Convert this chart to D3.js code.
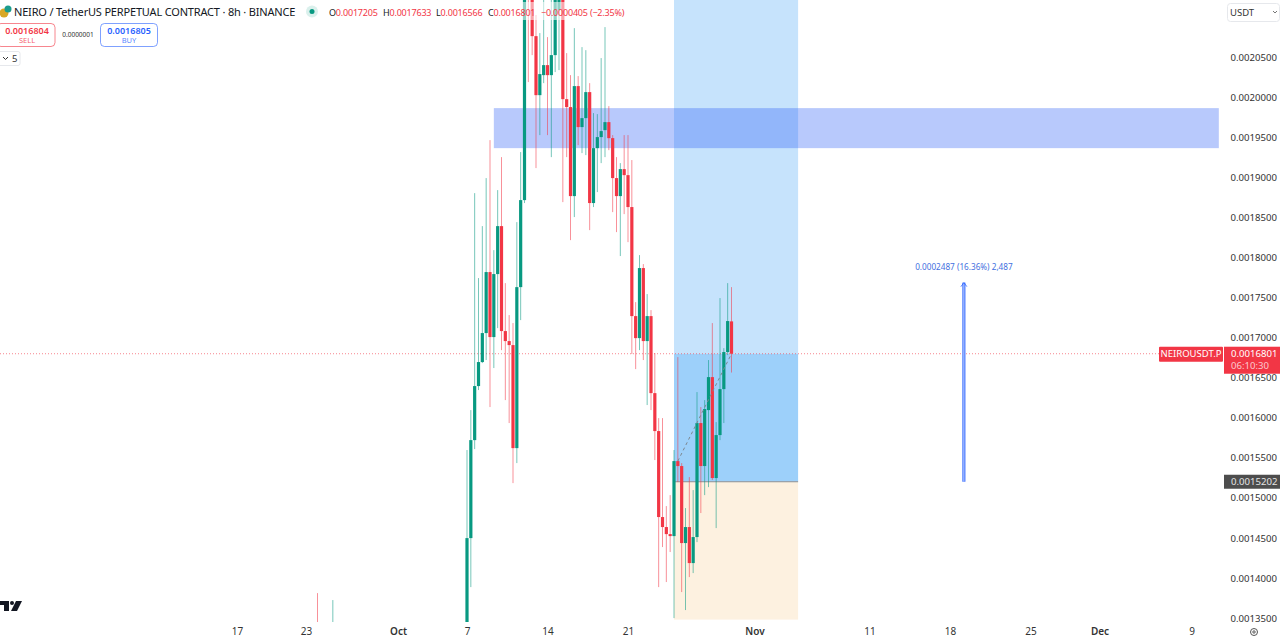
<!DOCTYPE html>
<html>
<head>
<meta charset="utf-8">
<script src="https://cdn.jsdelivr.net/npm/d3@7"></script>
<style>
html, body { margin: 0; padding: 0; background: #fff; overflow: hidden; }
text { font-family: "Noto Sans", sans-serif; }
</style>
</head>
<body>
<svg id="chart" width="1280" height="638"></svg>
<script>
// prices are in ticks of 0.0000001, candles are 8h starting 7 Oct
var opens = [13412,14498,15722,16397,16697,17059,17821,17009,17796,18395,17084,16959,16909,15622,17633,18720,21718,21468,20768,20031,20281,20406,20281,20531,21093,21343,19981,19882,18770,20144,19632,19744,20069,18683,19369,19507,19594,19694,19494,18995,18770,19107,19032,18633,17271,16996,17871,16959,17271,16309,15835,14761,14636,14548,14523,15460,15398,14436,14636,14186,14511,15935,15398,16097,16509,15248,15785,16359,16822,17205]
var highs = [15598,16097,18807,17746,18395,18995,19469,18095,18845,19257,17683,17284,17184,18445,19320,21593,21843,21593,21031,20806,21280,20756,21280,21343,21468,21468,20556,20281,20868,20269,20631,20593,20181,19807,19794,20494,20881,19894,19532,19257,19182,19532,19532,19220,17446,18033,17921,17546,17346,16809,15997,15997,14898,15035,15598,16759,15435,14873,15260,15098,16322,16135,16222,16722,17184,15947,17496,16871,17683,17633]
var lows = [13349,13886,15610,16347,16684,16722,16135,16622,17121,16846,16222,15935,15185,15435,17221,18683,20194,20531,19120,19532,20181,19532,19257,20319,20344,18695,19257,18220,18508,19407,19307,19282,18345,18633,18820,19182,19257,19344,18570,18320,18021,18545,18195,16797,16609,16846,16722,16160,16097,15473,13886,14386,13949,14324,13499,15198,13824,13599,14011,14061,14448,14811,15035,15135,15223,14623,15722,15935,16784,16566]
var closes = [14498,15722,16397,16697,17059,17821,17009,17796,18395,17084,16959,16909,15622,17633,18720,21405,21468,20768,20031,20294,20406,20281,20531,21280,21343,19981,19882,18770,20144,19632,19744,20069,18683,19369,19507,19582,19694,19494,18995,18770,19107,19032,18633,17271,16996,17871,16959,17271,16309,15835,14761,14636,14548,14523,15460,15398,14436,14636,14186,14511,15935,15398,16110,16509,15248,15785,16359,16822,17209,16801]

// two older candles whose wicks just poke above the bottom of the pane
var oldTimes = [Date.UTC(2024,8,24,0), Date.UTC(2024,8,25,8)]
var oldOpens = [13000, 12900]
var oldHighs = [13811, 13724]
var oldLows = [12800, 12800]
var oldCloses = [12900, 13000]

var priceTicks = [13500,14000,14500,15000,15500,16000,16500,17000,17500,18000,18500,19000,19500,20000,20500]
var timeTicks = [Date.UTC(2024,8,17),Date.UTC(2024,8,23),Date.UTC(2024,9,1),Date.UTC(2024,9,7),Date.UTC(2024,9,14),Date.UTC(2024,9,21),Date.UTC(2024,10,1),Date.UTC(2024,10,11),Date.UTC(2024,10,18),Date.UTC(2024,10,25),Date.UTC(2024,11,1),Date.UTC(2024,11,9)]
var timeLabels = ["17","23","Oct","7","14","21","Nov","11","18","25","Dec","9"]

var lastPrice = 16801, entryPrice = 15202, arrowTop = 17689
var zoneTop = 19869, zoneBottom = 19369, positionTop = 21800, positionBottom = 13480

var width = 1280, height = 638, paneW = 1224, paneH = 622
var green = "#089981", red = "#f23645", blue = "#2962ff"

var svg = d3.select("#chart")
var x = d3.scaleUtc().domain([Date.UTC(2024,9,1), Date.UTC(2024,10,1)]).range([398, 754.5])
var y = d3.scaleLinear().domain([13500, 20500]).range([618, 57.6])
var fmt = d => (d/1e7).toFixed(7)

var candles = opens.map((o,i) => ({t: Date.UTC(2024,9,7) + i*8*3600e3, o: o, h: highs[i], l: lows[i], c: closes[i]}))
oldTimes.forEach((t,i) => candles.unshift({t: t, o: oldOpens[i], h: oldHighs[i], l: oldLows[i], c: oldCloses[i]}))

svg.append("clipPath").attr("id","pane").append("rect").attr("width",paneW).attr("height",paneH)
var pane = svg.append("g").attr("clip-path","url(#pane)")

// position tool
var posL = x(Date.UTC(2024,9,25)), posR = x(Date.UTC(2024,10,4,19))
pane.append("rect").attr("x",posL).attr("width",posR-posL)
    .attr("y",y(positionTop)).attr("height",y(lastPrice)-y(positionTop)).attr("fill","#c6e3fc")
pane.append("rect").attr("x",posL).attr("width",posR-posL)
    .attr("y",y(lastPrice)).attr("height",y(entryPrice)-y(lastPrice)).attr("fill","#9dd0fa")
pane.append("rect").attr("x",posL).attr("width",posR-posL)
    .attr("y",y(entryPrice)).attr("height",y(positionBottom)-y(entryPrice)).attr("fill","#fdf1e0")
pane.append("line").attr("x1",posL).attr("x2",posR).attr("y1",y(entryPrice)).attr("y2",y(entryPrice))
    .attr("stroke","#8a8f96").attr("stroke-width",1)

// blue zone
var zoneL = x(Date.UTC(2024,9,9,8)), zoneR = x(Date.UTC(2024,11,11,9))
pane.append("rect").attr("x",zoneL).attr("width",zoneR-zoneL)
    .attr("y",y(zoneTop)).attr("height",y(zoneBottom)-y(zoneTop))
    .attr("fill","#2f62f5").attr("fill-opacity",0.34)

// last price line
pane.append("line").attr("x1",0).attr("x2",paneW).attr("y1",y(lastPrice)).attr("y2",y(lastPrice))
    .attr("stroke",red).attr("stroke-opacity",0.6).attr("stroke-dasharray","1 2")

// candles
var color = d => d.c >= d.o ? green : red
pane.selectAll(".wick").data(candles).enter().append("line").attr("class","wick")
    .attr("x1",d => x(d.t)).attr("x2",d => x(d.t))
    .attr("y1",d => y(d.h)).attr("y2",d => y(d.l))
    .attr("stroke",color).attr("stroke-width",1).attr("stroke-opacity",0.55)
pane.selectAll(".body").data(candles).enter().append("rect").attr("class","body")
    .attr("x",d => x(d.t)-1.6).attr("width",3.2)
    .attr("y",d => y(Math.max(d.o,d.c)))
    .attr("height",d => Math.max(1.5, Math.abs(y(d.o)-y(d.c))))
    .attr("fill",color)

// dashed path from the entry candle to the last one
pane.append("line").attr("x1",x(Date.UTC(2024,9,25,8))).attr("y1",y(15460))
    .attr("x2",x(candles[candles.length-1].t)).attr("y2",y(lastPrice))
    .attr("stroke","#7d8790").attr("stroke-dasharray","3 3").attr("stroke-width",1)

// price range arrow, blue edges and a pale middle
var arrowX = x(Date.UTC(2024,10,19,5))
pane.append("line").attr("x1",arrowX).attr("x2",arrowX).attr("y1",y(entryPrice)).attr("y2",y(arrowTop))
    .attr("stroke",blue).attr("stroke-width",3)
pane.append("line").attr("x1",arrowX).attr("x2",arrowX).attr("y1",y(entryPrice)).attr("y2",y(arrowTop))
    .attr("stroke","#d6e0ff").attr("stroke-width",1)
pane.append("path").attr("d",`M${arrowX-3},${y(arrowTop)+4}L${arrowX},${y(arrowTop)}L${arrowX+3},${y(arrowTop)+4}`)
    .attr("fill","none").attr("stroke",blue).attr("stroke-opacity",0.8)
pane.append("text").attr("x",arrowX).attr("y",y(arrowTop)-13).attr("text-anchor","middle")
    .attr("font-size",8.2).attr("fill","#3f6fe0").text("0.0002487 (16.36%) 2,487")

// price axis
var yAxis = svg.append("g").attr("transform",`translate(${width-3},0)`)
    .call(d3.axisLeft(y).tickValues(priceTicks).tickSize(0).tickPadding(0).tickFormat(fmt))
yAxis.select(".domain").remove()
yAxis.selectAll("text").attr("font-size",9.6).attr("fill","#333").style("font-family",'"Noto Sans", sans-serif')

// time axis
var xAxis = svg.append("g").attr("transform","translate(0,625)")
    .call(d3.axisBottom(x).tickValues(timeTicks).tickSize(0).tickPadding(3).tickFormat((d,i) => timeLabels[i]))
xAxis.select(".domain").remove()
xAxis.selectAll("text").attr("font-size",10).attr("fill","#333").style("font-family",'"Noto Sans", sans-serif')
    .attr("font-weight",(d,i) => isNaN(+timeLabels[i]) ? 600 : 400)

// price tags on the axis
svg.append("rect").attr("x",1159).attr("y",y(lastPrice)-7).attr("width",64).attr("height",15).attr("rx",1).attr("fill",red)
svg.append("text").attr("x",1191).attr("y",y(lastPrice)+3.5).attr("text-anchor","middle")
    .attr("font-size",9.5).attr("fill","#fff").text("NEIROUSDT.P")
svg.append("rect").attr("x",1224).attr("y",y(lastPrice)-7).attr("width",56).attr("height",27).attr("fill",red)
svg.append("text").attr("x",1231).attr("y",y(lastPrice)+3.5).attr("font-size",9.6).attr("fill","#fff").text(fmt(lastPrice))
svg.append("text").attr("x",1231).attr("y",y(lastPrice)+15).attr("font-size",9.6).attr("fill","#fbc9ce").text("06:10:30")
svg.append("rect").attr("x",1224).attr("y",y(entryPrice)-7).attr("width",56).attr("height",14).attr("fill","#4d4d4d")
svg.append("text").attr("x",1231).attr("y",y(entryPrice)+3.5).attr("font-size",9.6).attr("fill","#e4e4e4").text(fmt(entryPrice))

// currency box
svg.append("rect").attr("x",1227.5).attr("y",3.5).attr("width",52).attr("height",18).attr("rx",3)
    .attr("fill","#fff").attr("stroke","#e6e8ec")
svg.append("text").attr("x",1230).attr("y",15.5).attr("font-size",9.5).attr("fill","#333").text("USDT")
svg.append("path").attr("d","M1273 11l2 2l2-2").attr("fill","none").attr("stroke","#777")

// legend header
svg.append("rect").attr("x",300).attr("y",2).attr("width",328).attr("height",18).attr("fill","#fff").attr("fill-opacity",0.55)
svg.append("circle").attr("cx",4).attr("cy",13).attr("r",4.5).attr("fill","#d9a826")
svg.append("circle").attr("cx",8).attr("cy",9).attr("r",3.5).attr("fill","#1c9c8e")
svg.append("text").attr("x",14).attr("y",16).attr("font-size",11).attr("letter-spacing",-0.18).attr("fill","#131722")
    .text("NEIRO / TetherUS PERPETUAL CONTRACT · 8h · BINANCE")
svg.append("circle").attr("cx",312).attr("cy",11.5).attr("r",6).attr("fill",green).attr("fill-opacity",0.15)
svg.append("circle").attr("cx",312).attr("cy",11.5).attr("r",2.5).attr("fill",green)
var ohlc = svg.append("text").attr("y",15.5).attr("font-size",9).attr("letter-spacing",-0.2).attr("fill",red)
;[["O",opens[69],329],["H",highs[69],383],["L",lows[69],436],["C",closes[69],488]].forEach(p => {
    ohlc.append("tspan").attr("x",p[2]).attr("fill","#131722").text(p[0])
    ohlc.append("tspan").text(fmt(p[1]))
})
ohlc.append("tspan").attr("x",541).text("−0.0000405 (−2.35%)")

// sell / buy buttons
svg.append("rect").attr("x",-3).attr("y",23.5).attr("width",58).attr("height",23).attr("rx",4)
    .attr("fill","#fff").attr("stroke",red).attr("stroke-opacity",0.6)
svg.append("text").attr("x",27).attr("y",33.5).attr("text-anchor","middle").attr("font-size",9).attr("font-weight",600).attr("fill",red).text(fmt(16804))
svg.append("text").attr("x",27).attr("y",43).attr("text-anchor","middle").attr("font-size",7.5).attr("fill",red).attr("fill-opacity",0.8).text("SELL")
svg.append("text").attr("x",78).attr("y",37).attr("text-anchor","middle").attr("font-size",6.5).attr("fill","#333").text(fmt(1))
svg.append("rect").attr("x",100.5).attr("y",23.5).attr("width",57).attr("height",23).attr("rx",4)
    .attr("fill","#fff").attr("stroke",blue).attr("stroke-opacity",0.6)
svg.append("text").attr("x",129).attr("y",33.5).attr("text-anchor","middle").attr("font-size",9).attr("font-weight",600).attr("fill",blue).text(fmt(16805))
svg.append("text").attr("x",129).attr("y",43).attr("text-anchor","middle").attr("font-size",7.5).attr("fill",blue).attr("fill-opacity",0.8).text("BUY")

// collapse button
svg.append("rect").attr("x",-2).attr("y",51.5).attr("width",22).attr("height",14).attr("rx",2)
    .attr("fill","#fff").attr("stroke","#e6e8ec")
svg.append("path").attr("d","M3 57l2.5 2.5l2.5-2.5").attr("fill","none").attr("stroke","#333")
svg.append("text").attr("x",12).attr("y",62).attr("font-size",9.5).attr("fill","#333").text("5")

// tradingview mark
svg.append("path").attr("d","M0 601H9V611H4V605H0Z").attr("fill","#131722")
svg.append("circle").attr("cx",12).attr("cy",603).attr("r",2).attr("fill","#131722")
svg.append("path").attr("d","M16 601H22L17 611H11Z").attr("fill","#131722")

// settings gear
svg.append("circle").attr("cx",1254).attr("cy",632).attr("r",3.5).attr("fill","none").attr("stroke","#555")
svg.append("circle").attr("cx",1254).attr("cy",632).attr("r",1.2).attr("fill","none").attr("stroke","#555")
</script>
</body>
</html>
